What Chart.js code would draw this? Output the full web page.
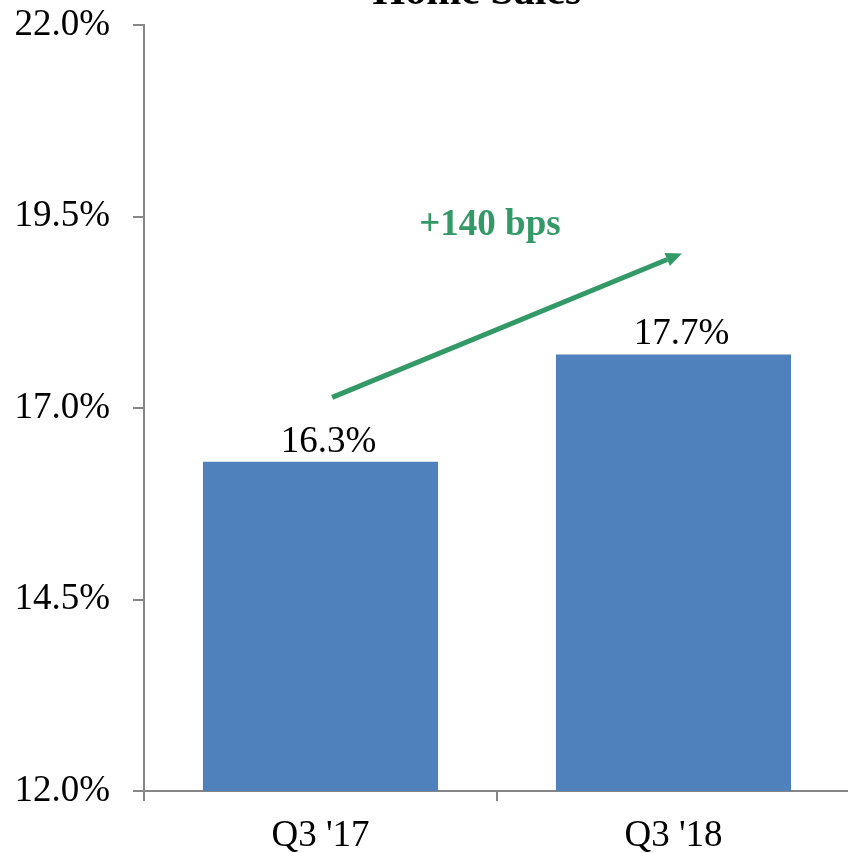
<!DOCTYPE html>
<html>
<head>
<meta charset="utf-8">
<script src="https://cdn.jsdelivr.net/npm/chart.js@4"></script>
<style>
  html, body { margin: 0; padding: 0; background: #fff; overflow: hidden; }
  /* the top tick label needs headroom; pull the canvas up so the plot starts near the edge */
  canvas { display: block; margin-top: -20px; }
</style>
</head>
<body>
<canvas id="salesChart" width="851" height="873"></canvas>
<script>
// ------------------------------------------- Data --------------------------------------------------

const quarters = ["Q3 '17", "Q3 '18"];
const shareValues = [16.3, 17.7];
const yTicks = [12.0, 14.5, 17.0, 19.5, 22.0];
const chartTitle = 'Home Sales';
const changeLabel = '+140 bps';

const SERIF = "'Liberation Serif', 'Times New Roman', serif";
const AXIS_GREY = '#868686';
const BAR_BLUE = '#4F81BD';
const GREEN = '#339966';

// ------------------------------------------- Plugins --------------------------------------------------

// title sits above the plot area, mostly clipped by the top edge
const titlePlugin = {
    id: 'topTitle',
    afterDraw(chart) {
        const ctx = chart.ctx;
        ctx.save();
        ctx.font = 'bold 42px ' + SERIF;
        ctx.fillStyle = '#000';
        ctx.textAlign = 'center';
        ctx.textBaseline = 'alphabetic';
        ctx.fillText(chartTitle, 477, chart.chartArea.top - 21);
        ctx.restore();
    }
};

// value labels above each bar
const barLabels = {
    id: 'barLabels',
    afterDatasetsDraw(chart) {
        const ctx = chart.ctx;
        const meta = chart.getDatasetMeta(0);
        ctx.save();
        ctx.font = '37px ' + SERIF;
        ctx.fillStyle = '#000';
        ctx.textAlign = 'center';
        ctx.textBaseline = 'alphabetic';
        meta.data.forEach((bar, i) => {
            ctx.fillText(shareValues[i].toFixed(1) + '%', bar.x + 8, bar.y - 10);
        });
        ctx.restore();
    }
};

// green trend arrow with the change in basis points
const trendArrow = {
    id: 'trendArrow',
    afterDatasetsDraw(chart) {
        const x = chart.scales.x, y = chart.scales.y;
        const ctx = chart.ctx;
        const x0 = x.getPixelForValue(0.033), y0 = y.getPixelForValue(17.14);
        const x1 = x.getPixelForValue(1.024), y1 = y.getPixelForValue(19.02);
        const ang = Math.atan2(y1 - y0, x1 - x0);
        const head = 16, half = 7;
        const bx = x1 - head * Math.cos(ang), by = y1 - head * Math.sin(ang);

        ctx.save();
        ctx.strokeStyle = GREEN;
        ctx.fillStyle = GREEN;
        ctx.lineWidth = 5;
        ctx.beginPath();
        ctx.moveTo(x0, y0);
        ctx.lineTo(bx, by);
        ctx.stroke();

        ctx.beginPath();
        ctx.moveTo(x1, y1);
        ctx.lineTo(bx + half * Math.sin(ang), by - half * Math.cos(ang));
        ctx.lineTo(bx - half * Math.sin(ang), by + half * Math.cos(ang));
        ctx.closePath();
        ctx.fill();

        ctx.font = 'bold 37px ' + SERIF;
        ctx.textAlign = 'center';
        ctx.textBaseline = 'alphabetic';
        ctx.fillText(changeLabel, x.getPixelForValue(0.48), y.getPixelForValue(19.26));
        ctx.restore();
    }
};

// ------------------------------------------- Chart.js --------------------------------------------------

document.addEventListener('DOMContentLoaded', function(){

    const ctx1 = document.getElementById('salesChart');
    const salesChart = new Chart(ctx1, {
        type: 'bar',
        data: {
            labels: quarters,
            datasets: [{
                data: shareValues,
                backgroundColor: BAR_BLUE,
                borderWidth: 0,
                barPercentage: 0.666,
                categoryPercentage: 1.0
            }]
        },
        options: {
            responsive: false,
            animation: false,
            layout: {
                padding: { top: 3, left: 0, right: 1, bottom: 0 }
            },
            plugins: {
                legend: { display: false },
                tooltip: { enabled: false }
            },
            scales: {
                x: {
                    offset: true,
                    border: { display: true, color: AXIS_GREY, width: 2 },
                    grid: {
                        offset: true,
                        drawOnChartArea: false,
                        color: AXIS_GREY,
                        lineWidth: 2,
                        tickLength: 10
                    },
                    ticks: {
                        color: '#000',
                        font: { family: SERIF, size: 37 },
                        padding: 13
                    },
                    afterFit(scale) { scale.height = 62; }
                },
                y: {
                    min: 12,
                    max: 22,
                    border: { display: true, color: AXIS_GREY, width: 2 },
                    grid: {
                        drawOnChartArea: false,
                        color: AXIS_GREY,
                        lineWidth: 2,
                        tickLength: 11
                    },
                    afterBuildTicks(scale) {
                        scale.ticks = yTicks.map(v => ({ value: v }));
                    },
                    ticks: {
                        color: '#000',
                        font: { family: SERIF, size: 37 },
                        padding: 23,
                        callback: v => Number(v).toFixed(1) + '%'
                    },
                    afterFit(scale) { scale.width = 144; }
                }
            }
        },
        plugins: [titlePlugin, barLabels, trendArrow]
    });

});
</script>
</body>
</html>
